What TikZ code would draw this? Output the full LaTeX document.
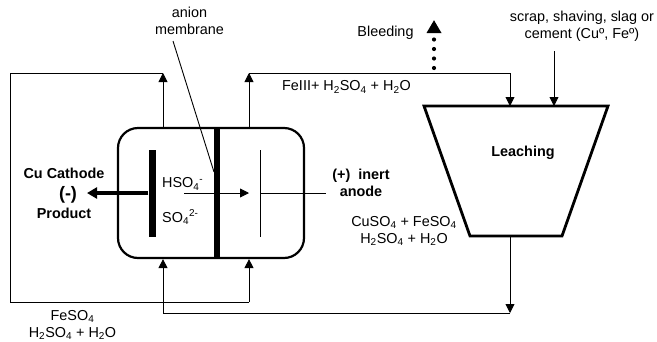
\documentclass[tikz,border=0pt]{standalone}
\usepackage{fontspec}
\setmainfont{Liberation Sans}
\usetikzlibrary{arrows.meta}
\usetikzlibrary{positioning}
\newcommand{\subfour}{\textsubscript{4}}
\newcommand{\ionchg}[1]{\textsubscript{4}\textsuperscript{#1}}

\begin{document}
\begin{tikzpicture}[x=1pt,y=-1pt,>={Triangle[length=9pt,width=9pt]},
                        pipe/.style={line width=0.9pt},
                        cell node/.style={rectangle,draw,line width=2.2pt,rounded corners=20pt,minimum width=186pt,minimum height=130pt,inner sep=0pt},
                        tank/.style={draw,line width=2.8pt,miter limit=10},
                        plate node/.style={rectangle,fill=black,inner sep=0pt,minimum height=87pt},
                        txt/.style={font=\fontsize{14.4}{17}\selectfont,align=center,inner sep=0pt},
                        bold txt/.style={txt,font=\fontsize{14.4}{17}\selectfont\bfseries}]

      \useasboundingbox (0,0) rectangle (657,341);

      \node[cell node] (cell) at (211,193) {};
      \node[plate node,minimum width=7pt] (cathode) at (152,193) {};
      \node[plate node,minimum width=0.9pt] (anode) at (260.5,193) {};
      \node[plate node,minimum width=6.5pt,minimum height=130pt] (membrane) at (217,193) {};

      \coordinate (tanktl) at (424,106);
      \coordinate (tanktr) at (608,106);
      \coordinate (tankbr) at (562,236);
      \coordinate (tankbl) at (470,236);
      \draw[tank] (tanktl) -- (tanktr) -- (tankbr) -- (tankbl) -- cycle;

      \node[txt] (anion) at (189.5,20.5) {anion\\membrane};
      \node[bold txt] (cu) at (64,173) {Cu Cathode};
      \node[bold txt,font=\fontsize{18}{20}\selectfont\bfseries] (minus) [below=8pt of cu,xshift=4pt] {(-)};
      \node[bold txt] (product) at (64,213) {Product};
      \node[txt,anchor=west] (hso) at (162,184) {HSO\ionchg{-}};
      \node[txt] (so) [below=33pt of hso.west,anchor=west] {SO\ionchg{2-}};
      \node[bold txt] (inert) at (361,183) {(+)\ \ inert\\anode};
      \node[bold txt] (leaching) at (523,153) {Leaching};
      \node[txt] (bleeding) at (385.5,33) {Bleeding};
      \node[txt] (scrap) at (582,26) {scrap, shaving, slag or\\cement (Cuº, Feº)};
      \node[txt] (feiii) at (346.5,87) {FeIII+ H\textsubscript{2}SO\subfour{} + H\textsubscript{2}O};
      \node[txt] (cuso) at (404,231) {CuSO\subfour{} + FeSO\subfour\\H\textsubscript{2}SO\subfour{} + H\textsubscript{2}O};
      \node[txt] (feso) at (72.5,325) {FeSO\subfour\\H\textsubscript{2}SO\subfour{} + H\textsubscript{2}O};

      \coordinate (ltop) at (163,73);
      \coordinate (rtop) at (249,73);
      \coordinate (lout) at (10,73);
      \coordinate (lbot) at (10,302);
      \coordinate (rbot) at (249,302);
      \coordinate (lret) at (163,313);
      \coordinate (tret) at (510,313);
      \coordinate (tin) at (510,73);
      \coordinate (scrapin) at (554,51);
      \coordinate (bleedout) at (434,68);
      \coordinate (bleedtip) at (434,20);
      \coordinate (catout) at (87,193);
      \coordinate (ionin) at (184,193);
      \coordinate (ionout) at (249,193);
      \coordinate (anout) at (326,193);
      \coordinate (memfoot) at (214,172);
      \coordinate (memtop) at (173,41);

      \draw[pipe,->] (ltop |- cell.north) -- (ltop);
      \draw[pipe,->] (rtop |- cell.north) -- (rtop);
      \draw[pipe] (ltop) -- (lout) -- (lbot) -- (rbot);
      \draw[pipe,->] (rbot) -- (rbot |- cell.south);
      \draw[pipe,->] (rtop) -- (tin) -- (tin |- tanktl);
      \draw[pipe,->] (scrapin) -- (scrapin |- tanktl);
      \draw[pipe,->] (tret |- tankbl) -- (tret);
      \draw[pipe] (tret) -- (lret);
      \draw[pipe,->] (lret) -- (lret |- cell.south);
      \draw[pipe,->] (ionin) -- (ionout);
      \draw[pipe] (anode) -- (anout);
      \draw[pipe] (memtop) -- (memfoot);
      \draw[line width=3.4pt,-{Triangle[length=10pt,width=11pt]}] (cathode) -- (catout);
      \draw[line width=4.2pt,line cap=round,dash pattern=on 0pt off 9.5pt,-{Triangle[length=13pt,width=14pt]}] (bleedout) -- (bleedtip);
    \end{tikzpicture}
\end{document}
